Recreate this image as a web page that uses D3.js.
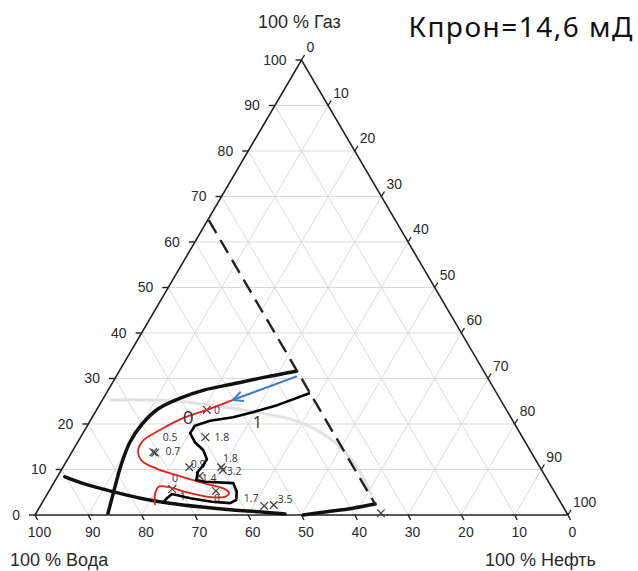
<!DOCTYPE html>
<html>
<head>
<meta charset="utf-8">
<script src="https://cdn.jsdelivr.net/npm/d3@7"></script>
<style>
  body { margin: 0; background: #fff; }
  svg { display: block; }
</style>
</head>
<body>
<svg id="chart" width="638" height="571"></svg>
<script>
// Ternary phase diagram: water (bottom axis), gas (left axis), oil (right axis), all in %.
// Every curve and point below is given as [water %, gas %]; oil = 100 - water - gas.

const tickValues = [0, 10, 20, 30, 40, 50, 60, 70, 80, 90, 100];
const titleText = "Кпрон=14,6 мД";
const gasCorner = "100 % Газ";
const waterCorner = "100 % Вода";
const oilCorner = "100 % Нефть";

// thick boundary of the upper zone
const boundaryUpper = [
  [86.1, 0.4], [82.4, 5.5], [78.5, 10.8], [74.2, 16.0], [69.9, 20.0], [65.3, 23.3],
  [59.9, 25.7], [54.4, 27.5], [48.5, 28.8], [41.7, 30.3], [35.2, 31.6]
];
// thick boundary along the bottom, left part
const boundaryLower = [
  [90.2, 8.4], [87.2, 6.8], [83.3, 5.3], [78.4, 3.7], [73.4, 2.6], [68.2, 1.8],
  [62.3, 1.1], [57.5, 0.7], [53.0, 0.2]
];
// thick boundary along the bottom, right part
const boundaryRight = [[49.7, 0.0], [44.9, 0.7], [39.6, 1.5], [35.0, 2.4]];

// dashed cut-off at constant water saturation
const cutoffLine = [[35.0, 64.8], [35.0, 2.2]];

// faint grey trace
const greyTrace = [
  [73.3, 25.3], [62.1, 25.1], [51.6, 23.5], [44.9, 22.0], [40.1, 20.4],
  [36.8, 17.6], [34.9, 13.8], [34.3, 9.5], [34.6, 4.4]
];

// blue arrow (start -> tip)
const arrowPath = [[35.6, 30.5], [50.2, 25.3]];

// red contour "0"
const contourZero = [
  [50.2, 25.3], [56.2, 23.1], [61.6, 21.3], [67.2, 18.7], [71.6, 16.3], [73.6, 14.1],
  [74.0, 11.9], [71.9, 10.1], [68.2, 8.4], [64.3, 6.8], [61.8, 5.9], [61.2, 4.8],
  [62.4, 4.0], [65.6, 4.0], [69.3, 5.1], [72.0, 6.2], [73.7, 6.2], [75.3, 4.4], [76.4, 2.2]
];

// black contour "1"
const contourOne = [
  [35.0, 26.8], [42.3, 24.2], [48.5, 22.4], [52.1, 21.5], [56.8, 20.7], [60.2, 19.6],
  [61.9, 18.0], [62.0, 16.0], [61.3, 14.3], [61.6, 12.3], [63.1, 10.8], [64.7, 9.5],
  [65.9, 7.7], [64.5, 7.3], [59.3, 7.0], [59.6, 5.1], [60.6, 3.3], [62.1, 2.6],
  [65.4, 2.9], [69.0, 3.7], [72.0, 4.6], [73.4, 3.7], [74.7, 2.6]
];

// measured samples
const samplePoints = [
  [56.2, 23.1], [59.5, 17.1], [70.9, 13.8], [70.6, 13.7], [65.8, 10.5],
  [59.8, 10.5], [59.8, 9.9], [64.8, 8.6], [71.4, 5.7], [63.4, 5.3],
  [56.0, 2.0], [54.1, 2.2], [34.9, 0.4]
];

// sample values, placed as [text, water %, gas %]
const sampleLabels = [
  ["0", 54.3, 23.1], ["1.8", 56.4, 17.1], ["0.5", 66.1, 17.1], ["0.7", 67.1, 14.1],
  ["0.9", 63.8, 11.2], ["1.8", 57.1, 12.5], ["3.2", 57.8, 9.7], ["1.4", 63.3, 8.1],
  ["0", 69.7, 8.1], ["1", 70.3, 4.0], ["0", 64.0, 3.7], ["1.7", 57.6, 3.7], ["3.5", 51.3, 3.5]
];

// contour level names
const levelLabels = [["0", 60.5, 21.5], ["1", 48.1, 20.4]];

// ---- layout ----
const svg = d3.select("#chart");
const base = d3.scaleLinear().domain([0, 100]).range([35, 568]);  // oil + gas/2
const height = d3.scaleLinear().domain([0, 100]).range([515, 60]); // gas

function pos(w, g) {
  const o = 100 - w - g;
  return [base(o + g / 2), height(g)];
}
const line = (curve) => d3.line()
  .x(d => pos(d[0], d[1])[0])
  .y(d => pos(d[0], d[1])[1])
  .curve(curve);

const axisFont = "'Liberation Sans', Arial, sans-serif";

// grid
const grid = svg.append("g").attr("stroke", "#d9d9d9").attr("stroke-width", 1).attr("fill", "none");
tickValues.filter(k => k > 0 && k < 100).forEach(k => {
  const segs = [
    [[100 - k, k], [0, k]],          // constant gas
    [[k, 0], [k, 100 - k]],          // constant water
    [[100 - k, 0], [0, 100 - k]]     // constant oil
  ];
  segs.forEach(s => grid.append("path").attr("d", line(d3.curveLinear)(s)));
});

// triangle frame
svg.append("path")
  .attr("d", line(d3.curveLinearClosed)([[100, 0], [0, 0], [0, 100]]))
  .attr("fill", "none").attr("stroke", "#222").attr("stroke-width", 1.6);

const axes = svg.append("g").attr("font-family", axisFont).attr("font-size", 14).attr("fill", "#2a2a2a");
tickValues.forEach(k => {
  // gas (left side)
  let [x, y] = pos(100 - k, k);
  axes.append("line").attr("x1", x - 6).attr("y1", y).attr("x2", x).attr("y2", y)
    .attr("stroke", "#222").attr("stroke-width", 1.4);
  axes.append("text").attr("x", x - 15).attr("y", y).attr("dy", "0.35em")
    .attr("text-anchor", "end").text(k);
  // water (bottom)
  [x, y] = pos(k, 0);
  axes.append("line").attr("x1", x).attr("y1", y).attr("x2", x + 2.5).attr("y2", y + 5)
    .attr("stroke", "#222").attr("stroke-width", 1.4);
  axes.append("text").attr("x", x + 4.5).attr("y", y + 17.5).attr("dy", "0.35em")
    .attr("text-anchor", "middle").text(k);
  // oil (right side)
  [x, y] = pos(0, 100 - k);
  axes.append("line").attr("x1", x).attr("y1", y).attr("x2", x + 3).attr("y2", y - 5)
    .attr("stroke", "#222").attr("stroke-width", 1.4);
  axes.append("text").attr("x", x + 5).attr("y", y - 12.5).attr("dy", "0.35em")
    .attr("text-anchor", "start").text(k);
});

// corner names and title
const corners = svg.append("g").attr("font-family", axisFont).attr("font-size", 18).attr("fill", "#2a2a2a");
corners.append("text").attr("x", 258).attr("y", 28).text(gasCorner);
corners.append("text").attr("x", 10).attr("y", 566).text(waterCorner);
corners.append("text").attr("x", 596).attr("y", 566).attr("text-anchor", "end").text(oilCorner);
svg.append("text").attr("x", 634).attr("y", 37).attr("text-anchor", "end")
  .attr("font-family", "'Noto Sans', 'Open Sans', sans-serif").attr("font-size", 28)
  .attr("letter-spacing", 1.5).attr("fill", "#111").text(titleText);

// faint trace
svg.append("path").attr("d", line(d3.curveCatmullRom)(greyTrace))
  .attr("fill", "none").attr("stroke", "#e2e2e2").attr("stroke-width", 3);

// sample markers
const marks = svg.append("g").attr("stroke", "#444").attr("stroke-width", 1.3).attr("fill", "none");
samplePoints.forEach(p => {
  const [x, y] = pos(p[0], p[1]);
  const r = 3.8;
  marks.append("path").attr("d", `M${x - r},${y - r}L${x + r},${y + r}M${x - r},${y + r}L${x + r},${y - r}`);
});
const vals = svg.append("g").attr("font-family", "'Open Sans', sans-serif").attr("font-size", 10.5)
  .attr("fill", "#333").attr("text-anchor", "middle");
sampleLabels.forEach(d => {
  const [x, y] = pos(d[1], d[2]);
  vals.append("text").attr("x", x).attr("y", y).attr("dy", "0.35em").text(d[0]);
});

// boundaries
const thick = (data, w) => svg.append("path").attr("d", line(d3.curveCatmullRom)(data))
  .attr("fill", "none").attr("stroke", "#111").attr("stroke-width", w).attr("stroke-linecap", "round");
thick(boundaryUpper, 3.5);
thick(boundaryLower, 3.5);
thick(boundaryRight, 3.5);

svg.append("path").attr("d", line(d3.curveLinear)(cutoffLine))
  .attr("fill", "none").attr("stroke", "#222").attr("stroke-width", 2.4)
  .attr("stroke-dasharray", "15,8");

// contours
svg.append("path").attr("d", line(d3.curveCatmullRom.alpha(0.5))(contourZero))
  .attr("fill", "none").attr("stroke", "#e0201b").attr("stroke-width", 1.8);
svg.append("path").attr("d", line(d3.curveLinear)(contourOne))
  .attr("fill", "none").attr("stroke", "#000").attr("stroke-width", 2.6)
  .attr("stroke-linejoin", "round");

// arrow
svg.append("defs").append("marker")
  .attr("id", "head").attr("viewBox", "0 0 12 12").attr("refX", 11).attr("refY", 6)
  .attr("markerWidth", 12).attr("markerHeight", 12).attr("markerUnits", "userSpaceOnUse")
  .attr("orient", "auto")
  .append("path").attr("d", "M1,1L11,6L1,11").attr("fill", "none")
  .attr("stroke", "#4a7ebb").attr("stroke-width", 2);
svg.append("path").attr("d", line(d3.curveLinear)(arrowPath))
  .attr("fill", "none").attr("stroke", "#4a7ebb").attr("stroke-width", 2.2)
  .attr("marker-end", "url(#head)");

// level names
const lv = svg.append("g").attr("font-family", "'Open Sans', sans-serif").attr("fill", "#333")
  .attr("text-anchor", "middle");
levelLabels.forEach((d, i) => {
  const [x, y] = pos(d[1], d[2]);
  lv.append("text").attr("x", x).attr("y", y).attr("dy", "0.35em")
    .attr("font-size", i === 0 ? 19 : 17).text(d[0]);
});
</script>
</body>
</html>
